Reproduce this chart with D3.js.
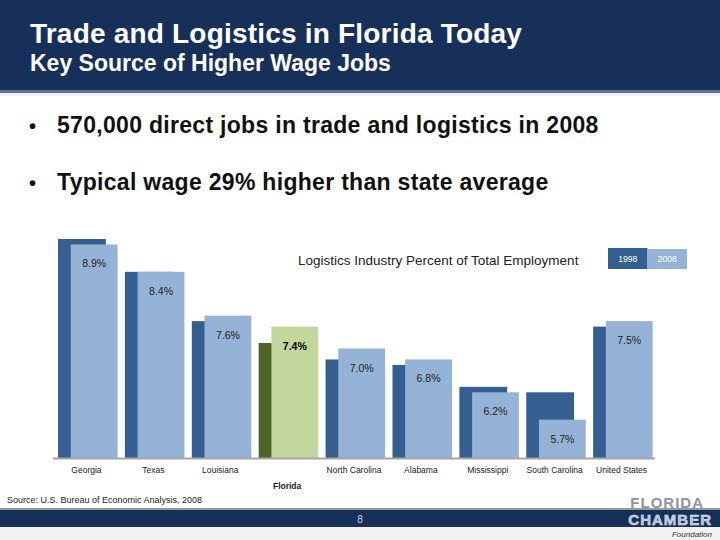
<!DOCTYPE html>
<html>
<head>
<meta charset="utf-8">
<script src="https://cdn.jsdelivr.net/npm/d3@7"></script>
<style>
  body { margin: 0; background: #fff; }
  svg { display: block; font-family: "Liberation Sans", Arial, sans-serif; }
</style>
</head>
<body>
<svg id="canvas" width="720" height="540"></svg>
<script>
// ===== Data =====
const states = ["Georgia", "Texas", "Louisiana", "Florida", "North Carolina",
  "Alabama", "Mississippi", "South Carolina", "United States"];
const values1998 = [9.0, 8.4, 7.5, 7.1, 6.8, 6.7, 6.3, 6.2, 7.4];
const values2008 = [8.9, 8.4, 7.6, 7.4, 7.0, 6.8, 6.2, 5.7, 7.5];
const years = ["1998", "2008"];
const bullets = [
  "570,000 direct jobs in trade and logistics in 2008",
  "Typical wage 29% higher than state average"
];

const svg = d3.select("#canvas");
const navy = "#17305a";

// ===== Header =====
svg.append("rect").attr("x", 0).attr("y", 0).attr("width", 720).attr("height", 90).attr("fill", navy);
svg.append("rect").attr("x", 0).attr("y", 90).attr("width", 720).attr("height", 3).attr("fill", "#66758f");
svg.append("rect").attr("x", 0).attr("y", 93).attr("width", 720).attr("height", 3).attr("fill", "#eef2f8");

svg.append("text").attr("x", 30).attr("y", 43)
  .attr("fill", "#fff").attr("font-size", "28px").attr("font-weight", "bold")
  .attr("letter-spacing", "0.2px")
  .text("Trade and Logistics in Florida Today");
svg.append("text").attr("x", 30).attr("y", 71)
  .attr("fill", "#fff").attr("font-size", "23px").attr("font-weight", "bold")
  .text("Key Source of Higher Wage Jobs");

// Bullets
bullets.forEach(function (b, i) {
  const y = 133 + i * 57;
  svg.append("text").attr("x", 29).attr("y", y)
    .attr("font-size", "20px").attr("font-weight", "bold").attr("fill", "#111")
    .text("\u2022");
  svg.append("text").attr("x", 57).attr("y", y)
    .attr("font-size", "23px").attr("font-weight", "bold").attr("fill", "#111")
    .attr("letter-spacing", "0.3px")
    .text(b);
});

// ===== Chart =====
const x = d3.scaleBand().domain(states).range([53, 655]);
const y = d3.scaleLinear().domain([5, 9]).range([458, 239]);
const bw = x.bandwidth();

const isFL = d => d === "Florida";
const rows = states.map((s, i) => ({ state: s, v98: values1998[i], v08: values2008[i] }));

const g = svg.append("g");

// 1998 bars (behind)
g.selectAll(".b98").data(rows).enter().append("rect")
  .attr("x", d => x(d.state) + bw * 0.075)
  .attr("width", bw * 0.715)
  .attr("y", d => y(d.v98))
  .attr("height", d => y(5) - y(d.v98))
  .attr("fill", d => isFL(d.state) ? "#4f6228" : "#365f91");

// 2008 bars
g.selectAll(".b08").data(rows).enter().append("rect")
  .attr("x", d => x(d.state) + bw * 0.265)
  .attr("width", bw * 0.7)
  .attr("y", d => y(d.v08))
  .attr("height", d => y(5) - y(d.v08))
  .attr("fill", d => isFL(d.state) ? "#c3d69b" : "#95b3d7");

// value labels (Georgia sits tight under the plot top)
g.selectAll(".val").data(rows).enter().append("text")
  .attr("x", d => x(d.state) + bw * 0.615)
  .attr("y", d => Math.max(y(d.v08) + 23, 263))
  .attr("text-anchor", "middle")
  .attr("font-size", "10.5px")
  .attr("font-weight", d => isFL(d.state) ? "bold" : "normal")
  .attr("fill", d => isFL(d.state) ? "#000" : "#222")
  .text(d => d.v08.toFixed(1) + "%");

// axis line
svg.append("line").attr("x1", 53).attr("x2", 655).attr("y1", 458.5).attr("y2", 458.5)
  .attr("stroke", "#a6a6a6").attr("stroke-width", 2);

// category labels
const xAxis = d3.axisBottom(x).tickSize(0).tickPadding(0);
const ax = svg.append("g").attr("transform", "translate(0,470)").call(xAxis);
ax.select(".domain").remove();
ax.selectAll("text")
  .attr("font-family", "'Liberation Sans', Arial, sans-serif")
  .attr("font-size", "8.5px")
  .attr("fill", "#222")
  .attr("dy", "0")
  .attr("y", d => isFL(d) ? 19 : 3)
  .attr("font-weight", d => isFL(d) ? "bold" : "normal");

// chart title
svg.append("text").attr("x", 298).attr("y", 265)
  .attr("font-size", "13.5px").attr("fill", "#222")
  .text("Logistics Industry Percent of Total Employment");

// legend
const legColors = ["#365f91", "#95b3d7"];
const legX = d3.scaleBand().domain(years).range([608, 687]);
svg.selectAll(".leg").data(years).enter().append("rect")
  .attr("x", d => legX(d)).attr("y", (d, i) => i === 0 ? 248 : 249)
  .attr("width", legX.bandwidth()).attr("height", (d, i) => i === 0 ? 21 : 20)
  .attr("fill", (d, i) => legColors[i]);
svg.selectAll(".legt").data(years).enter().append("text")
  .attr("x", d => legX(d) + legX.bandwidth() / 2).attr("y", 262)
  .attr("text-anchor", "middle").attr("font-size", "8.5px").attr("fill", "#fff")
  .text(d => d);

// ===== Footer =====
svg.append("text").attr("x", 7).attr("y", 503)
  .attr("font-size", "9px").attr("fill", "#222")
  .text("Source: U.S. Bureau of Economic Analysis, 2008");
svg.append("rect").attr("x", 0).attr("y", 527).attr("width", 720).attr("height", 13).attr("fill", "#f2f2f2");
svg.append("line").attr("x1", 0).attr("x2", 720).attr("y1", 509).attr("y2", 509)
  .attr("stroke", "#333").attr("stroke-width", 1);
svg.append("rect").attr("x", 0).attr("y", 510).attr("width", 720).attr("height", 17).attr("fill", navy);
svg.append("text").attr("x", 360).attr("y", 523).attr("text-anchor", "middle")
  .attr("font-size", "10px").attr("fill", "#c8d0dc").text("8");

// logo
svg.append("text").attr("x", 704).attr("y", 508).attr("text-anchor", "end")
  .attr("font-size", "15px").attr("font-weight", "bold").attr("fill", "#8f959c")
  .attr("letter-spacing", "1px").text("FLORIDA");
svg.append("text").attr("x", 712).attr("y", 525).attr("text-anchor", "end")
  .attr("font-size", "15px").attr("font-weight", "bold").attr("fill", "#a9bfd6")
  .attr("stroke", "#e6edf5").attr("stroke-width", 0.5).attr("letter-spacing", "1px")
  .text("CHAMBER");
svg.append("text").attr("x", 712).attr("y", 537).attr("text-anchor", "end")
  .attr("font-size", "8px").attr("font-style", "italic").attr("fill", "#333")
  .text("Foundation");
</script>
</body>
</html>
